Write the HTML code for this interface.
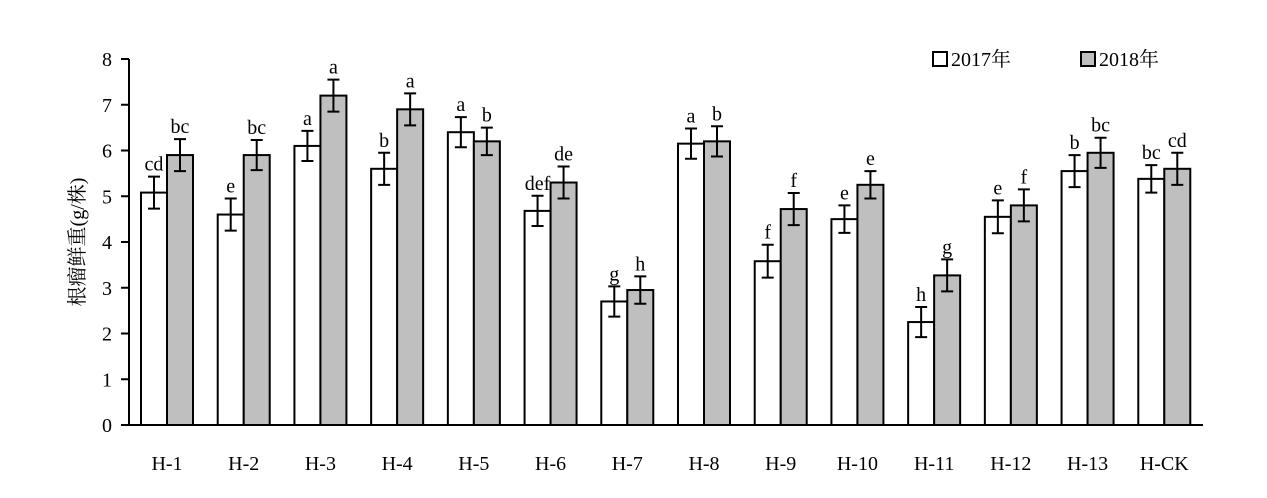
<!DOCTYPE html>
<html><head><meta charset="utf-8"><style>
body{margin:0;background:#fff}
svg text{font-family:"Liberation Serif","Noto Serif CJK SC",serif;fill:#000}
</style></head><body>
<svg id="chart" width="1267" height="493" xmlns="http://www.w3.org/2000/svg"></svg>
<script>
const categories=["H-1","H-2","H-3","H-4","H-5","H-6","H-7","H-8","H-9","H-10","H-11","H-12","H-13","H-CK"];
const values2017=[5.08,4.6,6.1,5.6,6.4,4.68,2.7,6.15,3.58,4.5,2.25,4.55,5.55,5.38];
const values2018=[5.9,5.9,7.2,6.9,6.2,5.3,2.95,6.2,4.72,5.25,3.27,4.8,5.95,5.6];
const err2017=[0.35,0.35,0.33,0.35,0.33,0.33,0.33,0.33,0.36,0.3,0.33,0.36,0.35,0.3];
const err2018=[0.35,0.33,0.35,0.35,0.3,0.35,0.3,0.33,0.35,0.3,0.35,0.35,0.33,0.35];
const labels2017=["cd","e","a","b","a","def","g","a","f","e","h","e","b","bc"];
const labels2018=["bc","bc","a","a","b","de","h","b","f","e","g","f","bc","cd"];
const yTicks=[0,1,2,3,4,5,6,7,8];
const svg=document.getElementById('chart');
const NS="http://www.w3.org/2000/svg";
const x0=129,x1=1203,y0=425,yTop=59,yMax=8;
const gw=(x1-x0)/categories.length,bw=26;
const Y=v=>y0-(v/yMax)*(y0-yTop);
const GX=i=>x0+i*gw;
function mk(t,a,txt){const e=document.createElementNS(NS,t);for(const k in a)e.setAttribute(k,a[k]);if(txt!==undefined)e.textContent=txt;svg.appendChild(e);return e;}
let e;
e=mk('line',{x1:x0,y1:yTop,x2:x0,y2:y0,stroke:'#000','stroke-width':2});


e=mk('line',{x1:x0-1,y1:y0,x2:x1,y2:y0,stroke:'#000','stroke-width':2});


yTicks.forEach(t=>{
 e=mk('line',{x1:x0-8,y1:Y(t),x2:x0,y2:Y(t),stroke:'#000','stroke-width':2});
 
 
 e=mk('text',{x:x0-17,y:Y(t)+7,'text-anchor':'end','font-size':20},t);
 
 
});
e=mk('text',{x:0,y:0,'font-size':20,'text-anchor':'middle',transform:'translate(84,242) rotate(-90)'},'根瘤鲜重(g/株)');


function bar(i,v,err,lab,off,fill,name){
 const bx=GX(i)+12+off;
 e=mk('rect',{x:bx,y:Y(v),width:bw,height:y0-Y(v),fill:fill,stroke:'#000','stroke-width':2});
 
 
 const cx=bx+bw/2;
 e=mk('path',{d:`M${cx},${Y(v+err)}V${Y(v-err)}M${cx-6},${Y(v+err)}H${cx+6}M${cx-6},${Y(v-err)}H${cx+6}`,stroke:'#000','stroke-width':2,fill:'none'});
 
 
 e=mk('text',{x:cx,y:Y(v+err)-6,'text-anchor':'middle','font-size':20},lab);
 
 
}
categories.forEach((c,i)=>{
 bar(i,values2017[i],err2017[i],labels2017[i],0,'#fff','bar-2017-'+c);
 bar(i,values2018[i],err2018[i],labels2018[i],bw,'#bfbfbf','bar-2018-'+c);
 e=mk('text',{x:GX(i)+12+bw,y:470,'text-anchor':'middle','font-size':20},c);
 
 
});
e=mk('rect',{x:933,y:52,width:14,height:14,fill:'#fff',stroke:'#000','stroke-width':2});


e=mk('text',{x:951,y:66,'font-size':20},'2017年');


e=mk('rect',{x:1081,y:52,width:14,height:14,fill:'#bfbfbf',stroke:'#000','stroke-width':2});


e=mk('text',{x:1099,y:66,'font-size':20},'2018年');


</script>
</body></html>
